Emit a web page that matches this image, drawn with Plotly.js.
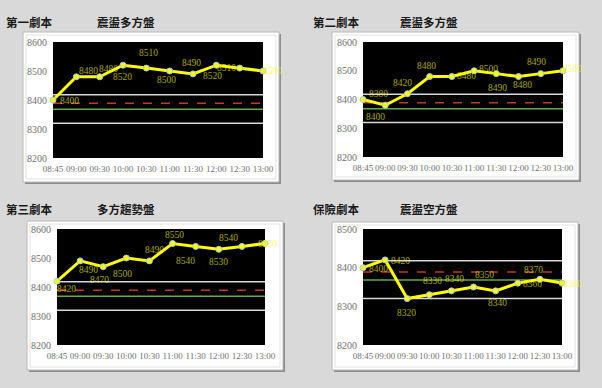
<!DOCTYPE html>
<html>
<head>
<meta charset="utf-8">
<script src="https://cdn.plot.ly/plotly-3.0.1.min.js"></script>
<style>html,body{margin:0;padding:0;background:#d9d9d9;}#chart{width:602px;height:388px;}</style>
</head>
<body>
<div id="chart"></div>
<script>
// ---- data ----
const timeLabels = ["08:45","09:00","09:30","10:00","10:30","11:00","11:30","12:00","12:30","13:00"];
const scriptNames = ["第一劇本","第二劇本","第三劇本","保險劇本"];
const scenarioNames = ["震盪多方盤","震盪多方盤","多方趨勢盤","震盪空方盤"];
const series1 = [8400,8480,8480,8520,8510,8500,8490,8520,8510,8500];
const series2 = [8400,8380,8420,8480,8480,8500,8490,8480,8490,8500];
const series3 = [8420,8490,8470,8500,8490,8550,8540,8530,8540,8550];
const series4 = [8400,8420,8320,8330,8340,8350,8340,8360,8370,8360];
const levelUpperWhite = 8418;
const levelRedDash = 8389;
const levelGreen = 8368;
const levelLowerWhite = 8320;
const yRanges = [[8200,8600],[8200,8600],[8200,8600],[8200,8500]];

// ---- styling / layout (pixel boxes) ----
const W = 602, H = 388;
const px = x => x / W, py = y => 1 - y / H;
const plotBoxes = [[53,263,42,158],[363,563,42,157],[57,265,229,345],[363,562,229,345]];
const frameBoxes = [[23,279,32,182],[332,579,32,180],[27,283,221,370],[332,578,222,370]];
const titlePos = [[4,95,22],[311,398,22],[4,95,209],[311,398,209]];
// label offsets (dx, dy in px; dy positive = down)
const labelOffsets = [
  [[16,1],[12,-6],[9,-8],[-1,12],[2,-15],[-3,9],[-2,-11],[-4,11],[-13,0],[9,0]],
  [[12,17],[-7,-11],[-5,-11],[-3,-11],[15,-1],[14,-2],[1,14],[4,8],[-4,-12],[9,-2]],
  [[9,8],[8,9],[-4,13],[-4,16],[5,-11],[2,-9],[-10,15],[0,13],[-13,-8],[2,0]],
  [[15,1],[15,1],[-1,14],[3,-14],[3,-12],[11,-12],[2,12],[15,1],[-6,-9],[10,1]]
];
const allSeries = [series1, series2, series3, series4];

const traces = [];
const shapes = [];
const annotations = [];
const layout = {
  width: W, height: H,
  margin: {l:0, r:0, t:0, b:0},
  paper_bgcolor: '#d9d9d9',
  plot_bgcolor: '#000000',
  showlegend: false,
  font: {family: 'Liberation Serif, serif', color: '#707070', size: 10}
};

allSeries.forEach((vals, i) => {
  const n = i + 1;
  const xa = n === 1 ? 'x' : 'x' + n;
  const ya = n === 1 ? 'y' : 'y' + n;
  const [x0, x1, y0, y1] = plotBoxes[i];
  layout['xaxis' + (n === 1 ? '' : n)] = {
    domain: [px(x0), px(x1)], anchor: ya, type: 'category',
    range: [0, timeLabels.length - 1], showgrid: false, zeroline: false,
    showline: false, ticks: '', fixedrange: true, tickangle: 0, automargin: false,
    tickfont: {family: 'Liberation Serif, serif', size: 9, color: '#707070'},
    ticklabelstandoff: 4
  };
  layout['yaxis' + (n === 1 ? '' : n)] = {
    domain: [py(y1), py(y0)], anchor: xa, range: yRanges[i], dtick: 100,
    showgrid: false, zeroline: false, showline: false, ticks: '', fixedrange: true,
    automargin: false,
    tickfont: {family: 'Liberation Serif, serif', size: 10, color: '#707070'},
    ticklabelstandoff: 5
  };
  // frame box: shadow, white panel, inner line
  const [fx0, fx1, fy0, fy1] = frameBoxes[i];
  shapes.push({type:'rect', xref:'paper', yref:'paper', layer:'below',
    x0:px(fx0+2), x1:px(fx1+2), y0:py(fy1+2), y1:py(fy0+2),
    fillcolor:'#8c8c8c', line:{width:0}});
  shapes.push({type:'rect', xref:'paper', yref:'paper', layer:'below',
    x0:px(fx0), x1:px(fx1), y0:py(fy1), y1:py(fy0),
    fillcolor:'#ffffff', line:{color:'#b8b8b8', width:1}});
  shapes.push({type:'rect', xref:'paper', yref:'paper', layer:'below',
    x0:px(fx0+3), x1:px(fx1-3), y0:py(fy1-3), y1:py(fy0+3),
    fillcolor:'rgba(0,0,0,0)', line:{color:'#e2e2e2', width:1}});
  // black plot area
  shapes.push({type:'rect', xref: xa + ' domain', yref: ya + ' domain', layer:'below',
    x0:0, x1:1, y0:0, y1:1, fillcolor:'#000000', line:{width:0}});
  // level lines
  const lvl = (v, color, dash, w) => shapes.push({type:'line', xref: xa + ' domain', yref: ya,
    x0:0, x1:1, y0:v, y1:v, line:{color, width:w, dash}, layer:'below'});
  lvl(levelUpperWhite, '#d8d8d8', 'solid', 1.5);
  lvl(levelRedDash, '#c0392b', 'dash', 1.5);
  lvl(levelGreen, '#6aa84f', 'solid', 1.5);
  lvl(levelLowerWhite, '#d8d8d8', 'solid', 1.5);
  // series
  traces.push({
    type:'scatter', mode:'lines+markers', x: timeLabels, y: vals,
    xaxis: xa, yaxis: ya, cliponaxis: false,
    line:{color:'#ffff00', width:3},
    marker:{color:'#ffff00', size:6, line:{color:'#9ec8f0', width:1}},
    hoverinfo:'skip'
  });
  // value labels
  vals.forEach((v, k) => {
    annotations.push({
      xref: xa, yref: ya, x: timeLabels[k], y: v, text: String(v),
      showarrow: false, xshift: labelOffsets[i][k][0], yshift: -labelOffsets[i][k][1],
      font: {family: 'Liberation Serif, serif', size: 9.5, color: 'rgba(255,255,0,0.66)'}
    });
  });
  // titles
  const [tx1, tx2, ty] = titlePos[i];
  annotations.push({xref:'paper', yref:'paper', x:px(tx1), y:py(ty), xanchor:'left', yanchor:'middle',
    text: '<b>' + scriptNames[i] + '</b>', showarrow:false,
    font:{family:'Noto Sans CJK TC, sans-serif', size:11.5, color:'#1a1a1a'}});
  annotations.push({xref:'paper', yref:'paper', x:px(tx2), y:py(ty), xanchor:'left', yanchor:'middle',
    text: '<b>' + scenarioNames[i] + '</b>', showarrow:false,
    font:{family:'Noto Sans CJK TC, sans-serif', size:11.5, color:'#1a1a1a'}});
});
layout.shapes = shapes;
layout.annotations = annotations;
Plotly.newPlot('chart', traces, layout, {displayModeBar:false, staticPlot:true});
</script>
</body>
</html>
